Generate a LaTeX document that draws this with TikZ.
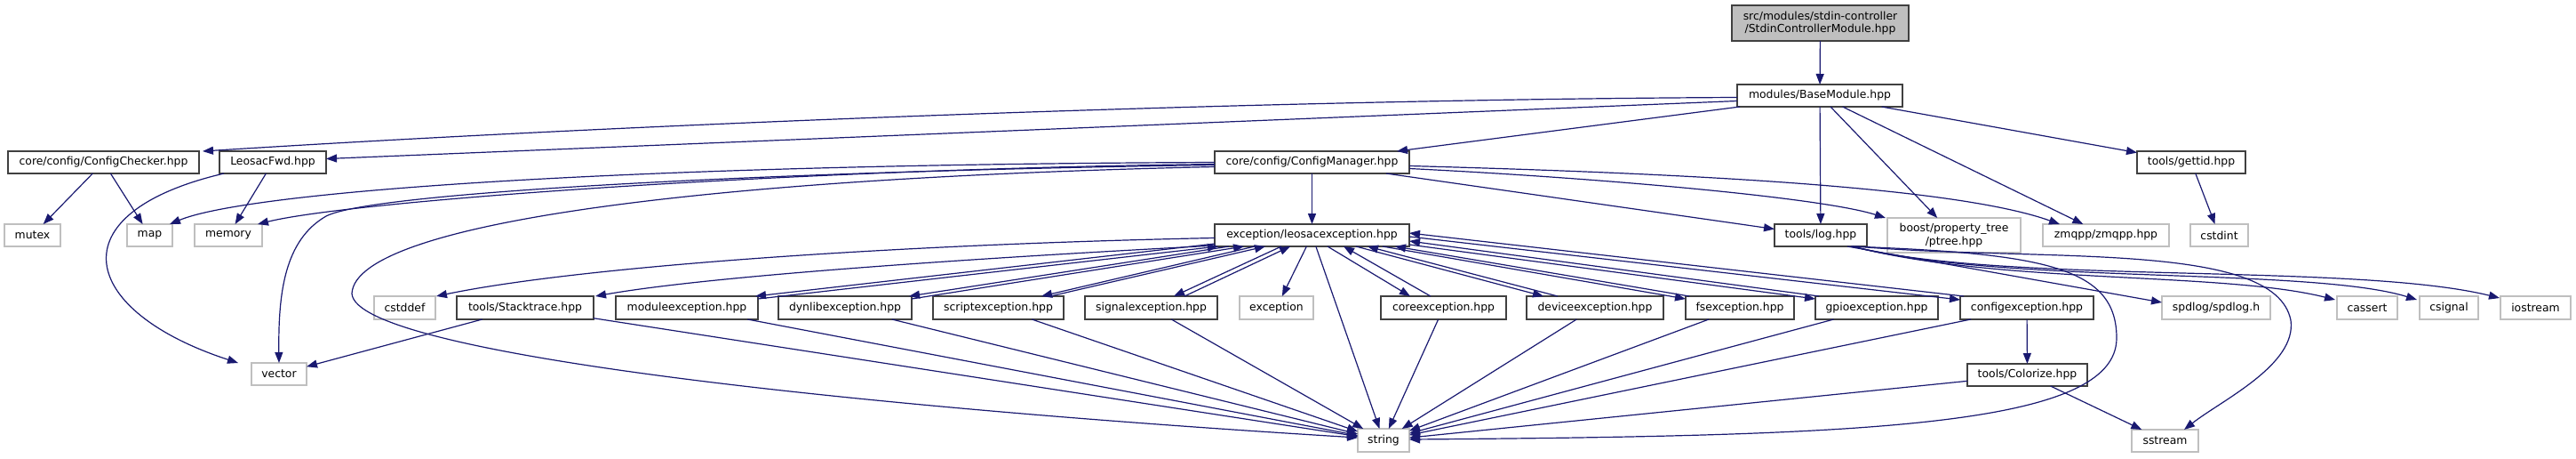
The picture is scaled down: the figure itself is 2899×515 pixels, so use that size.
\documentclass[tikz,border=0pt]{standalone}
\usepackage{fontspec}
\setmainfont{DejaVu Sans}
\usetikzlibrary{arrows.meta,calc}
\definecolor{edgec}{HTML}{191970}
\definecolor{extc}{HTML}{BFBFBF}
\definecolor{docc}{HTML}{404040}
\begin{document}
\begin{tikzpicture}[x=1pt,y=-1pt,
  box/.style={rectangle, inner sep=0pt, outer sep=0pt, font=\fontsize{12.4}{14.2}\selectfont, align=center, line width=1.4pt},
  doc/.style={box, draw=docc, fill=white},
  ext/.style={box, draw=extc, fill=white},
  rootbox/.style={box, draw=docc, fill=extc},
  dep/.style={draw=edgec, line width=1.2pt, -{Triangle[length=12pt,width=9pt]}}]
\useasboundingbox (0,0) rectangle (2899,515);
% nodes
\node[rootbox, minimum width=199pt, minimum height=40pt] (root) at (2048.5,26) {src/modules/stdin-controller\\/StdinControllerModule.hpp};
\node[doc, minimum width=186pt, minimum height=25pt] (base) at (2048,107.5) {modules/BaseModule.hpp};
\node[doc, minimum width=215pt, minimum height=25pt] (checker) at (116.5,182.5) {core/config/ConfigChecker.hpp};
\node[doc, minimum width=120pt, minimum height=25pt] (fwd) at (307,182.5) {LeosacFwd.hpp};
\node[doc, minimum width=219pt, minimum height=25pt] (mgr) at (1476.5,182.5) {core/config/ConfigManager.hpp};
\node[doc, minimum width=122pt, minimum height=25pt] (gettid) at (2466,182.5) {tools/gettid.hpp};
\node[ext, minimum width=63pt, minimum height=25pt] (nmutex) at (36.5,264.5) {mutex};
\node[ext, minimum width=51pt, minimum height=25pt] (nmap) at (168.5,264.5) {map};
\node[ext, minimum width=76pt, minimum height=25pt] (nmemory) at (257,264.5) {memory};
\node[doc, minimum width=219pt, minimum height=25pt] (leo) at (1476.5,264.5) {exception/leosacexception.hpp};
\node[doc, minimum width=104pt, minimum height=25pt] (nlog) at (2049,264.5) {tools/log.hpp};
\node[ext, minimum width=150pt, minimum height=39pt] (ptree) at (2199,264.5) {boost/property\_tree\\/ptree.hpp};
\node[ext, minimum width=142pt, minimum height=25pt] (zmqpp) at (2370,264.5) {zmqpp/zmqpp.hpp};
\node[ext, minimum width=65pt, minimum height=25pt] (cstdint) at (2497.5,264.5) {cstdint};
\node[ext, minimum width=69pt, minimum height=26pt] (cstddef) at (455.5,346) {cstddef};
\node[doc, minimum width=154pt, minimum height=26pt] (stack) at (591,346) {tools/Stacktrace.hpp};
\node[doc, minimum width=160pt, minimum height=26pt] (nmodule) at (773,346) {moduleexception.hpp};
\node[doc, minimum width=150pt, minimum height=26pt] (dynlib) at (951,346) {dynlibexception.hpp};
\node[doc, minimum width=147pt, minimum height=26pt] (script) at (1123.5,346) {scriptexception.hpp};
\node[doc, minimum width=149pt, minimum height=26pt] (signal) at (1295.5,346) {signalexception.hpp};
\node[ext, minimum width=83pt, minimum height=26pt] (nexc) at (1436.5,346) {exception};
\node[doc, minimum width=141pt, minimum height=26pt] (core) at (1624.5,346) {coreexception.hpp};
\node[doc, minimum width=154pt, minimum height=26pt] (device) at (1795,346) {deviceexception.hpp};
\node[doc, minimum width=122pt, minimum height=26pt] (fs) at (1958,346) {fsexception.hpp};
\node[doc, minimum width=138pt, minimum height=26pt] (gpio) at (2112,346) {gpioexception.hpp};
\node[doc, minimum width=150pt, minimum height=26pt] (config) at (2281,346) {configexception.hpp};
\node[ext, minimum width=122pt, minimum height=26pt] (spdlog) at (2494,346) {spdlog/spdlog.h};
\node[ext, minimum width=68pt, minimum height=26pt] (cassert) at (2664,346) {cassert};
\node[ext, minimum width=66pt, minimum height=26pt] (csignal) at (2756,346) {csignal};
\node[ext, minimum width=79pt, minimum height=26pt] (iostream) at (2853.5,346) {iostream};
\node[ext, minimum width=62pt, minimum height=25pt] (vector) at (314,420.5) {vector};
\node[doc, minimum width=135pt, minimum height=25pt] (colorize) at (2281.5,421.5) {tools/Colorize.hpp};
\node[ext, minimum width=58pt, minimum height=26pt] (nstring) at (1557,495) {string};
\node[ext, minimum width=75pt, minimum height=25pt] (sstream) at (2436.5,495.5) {sstream};
% edges from root / base
\draw[dep] (root) -- (base);
\draw[dep] ($(base.west)+(0,2)$) .. controls (1400,112) and (700,140) .. ($(checker.north east)+(4,0)$);
\draw[dep] ($(base.west)+(0,6)$) -- ($(fwd.east)+(0,-4)$);
\draw[dep] ($(base.south west)+(3,0)$) -- ($(mgr.north east)+(-14,0)$);
\draw[dep] (base) -- (nlog);
\draw[dep] (base) -- (ptree);
\draw[dep] (base) -- (zmqpp);
\draw[dep] (base) -- (gettid);
% second level
\draw[dep] (checker) -- (nmutex);
\draw[dep] (checker) -- (nmap);
\draw[dep] (fwd) -- (nmemory);
\draw[dep] ($(fwd.south west)+(5,0)$) .. controls (60,240) and (90,350) .. ($(vector.north west)+(-15,0)$);
\draw[dep] (gettid) -- (cstdint);
% ConfigManager
\draw[dep] ($(mgr.west)+(0,0)$) .. controls (700,185) and (280,215) .. ($(nmap.north east)+(-3,0)$);
\draw[dep] ($(mgr.west)+(0,2)$) .. controls (900,190) and (400,225) .. ($(nmemory.north east)+(-5,0)$);
\draw[dep] ($(mgr.west)+(0,3)$) .. controls (900,192) and (420,215) .. (367,243) .. controls (320,270) and (313,330) .. (vector.north);
\draw[dep] ($(mgr.west)+(0,5)$) .. controls (800,200) and (400,250) .. (396,330) .. controls (400,400) and (1000,460) .. ($(nstring.west)+(0,-3)$);
\draw[dep] (mgr) -- (leo);
\draw[dep] ($(mgr.south east)+(-26,0)$) -- ($(nlog.west)+(0,-7)$);
\draw[dep] ($(mgr.east)+(0,7)$) .. controls (1800,200) and (2050,222) .. ($(ptree.north west)+(-2,0)$);
\draw[dep] ($(mgr.east)+(0,4)$) .. controls (1900,195) and (2200,210) .. ($(zmqpp.north west)+(19,0)$);
% leosacexception
\draw[dep] ($(leo.west)+(0,3)$) .. controls (1000,275) and (650,300) .. ($(cstddef.north east)+(1,0)$);
\draw[dep] ($(leo.south west)+(1,-1)$) .. controls (1100,290) and (800,310) .. ($(stack.north east)+(2,0)$);
\draw[dep] ($(leo.south west)+(0,-3)$) -- ($(nmodule.north east)+(-3,0)$);
\draw[dep] ($(nmodule.north east)+(0,3)$) -- ($(leo.south west)+(4,0)$);
\draw[dep] ($(leo.south west)+(16,0)$) -- ($(dynlib.north east)+(-3,0)$);
\draw[dep] ($(dynlib.north east)+(0,3)$) -- ($(leo.south west)+(33,0)$);
\draw[dep] ($(leo.south west)+(45,0)$) -- ($(script.north east)+(-25,0)$);
\draw[dep] ($(script.north east)+(-15,0)$) -- ($(leo.south west)+(57,0)$);
\draw[dep] ($(leo.south west)+(75,0)$) -- ($(signal.north east)+(-49,0)$);
\draw[dep] ($(signal.north east)+(-37,0)$) -- ($(leo.south west)+(85,0)$);
\draw[dep] (leo) -- (nexc);
\draw[dep] (leo) -- (nstring);
\draw[dep] ($(leo.south west)+(127,0)$) -- ($(core.north west)+(33,0)$);
\draw[dep] ($(core.north west)+(56,0)$) -- ($(leo.south west)+(145,0)$);
\draw[dep] ($(leo.south west)+(159,0)$) -- ($(device.north west)+(19,0)$);
\draw[dep] ($(device.north west)+(35,0)$) -- ($(leo.south west)+(172,0)$);
\draw[dep] ($(leo.south west)+(189,0)$) -- ($(fs.north west)+(0,3)$);
\draw[dep] ($(fs.north west)+(4,0)$) -- ($(leo.south west)+(203,0)$);
\draw[dep] ($(leo.east)+(0,10.5)$) -- ($(gpio.north west)+(0,3)$);
\draw[dep] ($(gpio.north west)+(4,0)$) -- ($(leo.east)+(0,6.5)$);
\draw[dep] ($(leo.east)+(0,1.5)$) -- ($(config.north west)+(0,4)$);
\draw[dep] ($(config.north west)+(4,0)$) -- ($(leo.east)+(0,-2.5)$);
% to string
\draw[dep] (stack) -- (nstring);
\draw[dep] (nmodule) -- (nstring);
\draw[dep] (dynlib) -- (nstring);
\draw[dep] (script) -- (nstring);
\draw[dep] (signal) -- (nstring);
\draw[dep] (core) -- (nstring);
\draw[dep] (device) -- (nstring);
\draw[dep] (fs) -- (nstring);
\draw[dep] (gpio) -- (nstring);
\draw[dep] (config) -- (nstring);
\draw[dep] (colorize) -- (nstring);
\draw[dep] (stack) -- (vector);
\draw[dep] (config) -- (colorize);
\draw[dep] (colorize) -- (sstream);
% tools/log
\draw[dep] ($(nlog.south east)+(-18,0)$) .. controls (2300,285) and (2382,300) .. (2382,380) .. controls (2382,480) and (2100,490) .. ($(nstring.east)+(0,-1)$);
\draw[dep] ($(nlog.south east)+(-13,0)$) .. controls (2300,295) and (2560,270) .. (2578,360) .. controls (2585,410) and (2500,450) .. ($(sstream.north east)+(-16,0)$);
\draw[dep] ($(nlog.south east)+(-22,0)$) -- ($(spdlog.west)+(0,-6)$);
\draw[dep] ($(nlog.south east)+(-16,0)$) .. controls (2250,320) and (2500,305) .. ($(cassert.north west)+(-2,4)$);
\draw[dep] ($(nlog.south east)+(-16,0)$) .. controls (2250,320) and (2600,300) .. ($(csignal.north west)+(-3,4)$);
\draw[dep] ($(nlog.south east)+(-16,0)$) .. controls (2250,320) and (2650,295) .. ($(iostream.north west)+(-1,2)$);
\end{tikzpicture}
\end{document}
